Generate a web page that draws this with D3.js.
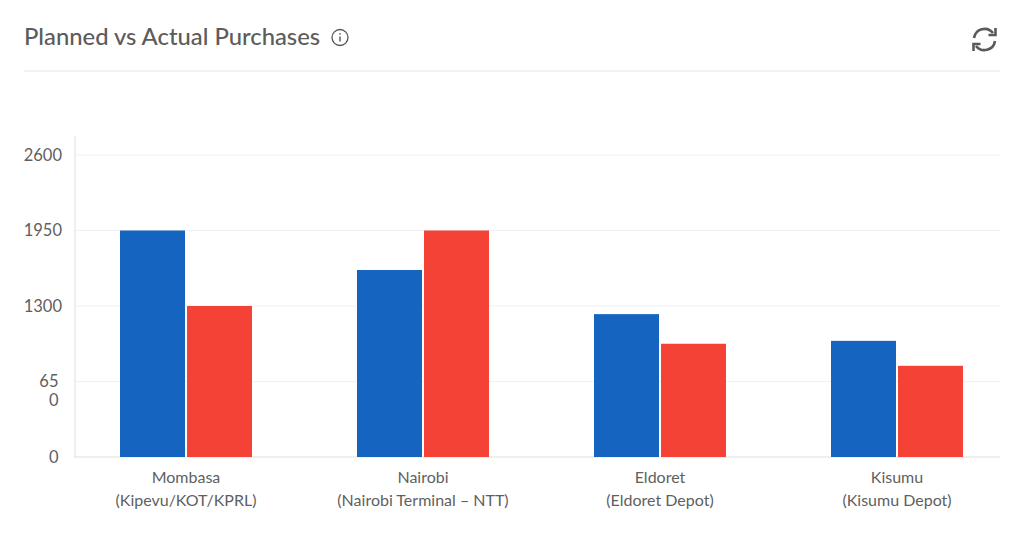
<!DOCTYPE html>
<html><head><meta charset="utf-8">
<script src="https://cdn.jsdelivr.net/npm/d3@7/dist/d3.min.js"></script>
<style>html,body{margin:0;padding:0;background:#fff}svg{display:block}text{font-family:Lato,"Noto Sans",sans-serif}</style>
</head><body><svg id="c" width="1024" height="546"></svg>
<script>
const categories=["Mombasa|(Kipevu/KOT/KPRL)","Nairobi|(Nairobi Terminal – NTT)","Eldoret|(Eldoret Depot)","Kisumu|(Kisumu Depot)"];
const planned=[1950,1610,1230,1000];
const actual=[1300,1950,975,785];
const tickValues=[0,650,1300,1950,2600];
const tickLabels=["0","65|0","1300","1950","2600"];
const seriesColors=["#1565c0","#f44336"];
const svg=d3.select("#c");
const y=d3.scaleLinear().domain([0,2600]).range([457,155]);
const x=d3.scaleBand().domain(categories).range([67.5,1015.5]);
const xs=d3.scaleBand().domain([0,1]).range([0,132]).paddingInner(0.03);
const plotL=75,plotR=1000;
// header
svg.append("text").attr("x",24).attr("y",45).attr("font-size",23.8).attr("fill","#5c5c5c").attr("font-weight",500).text("Planned vs Actual Purchases");
svg.append("line").attr("x1",24).attr("x2",1000).attr("y1",71).attr("y2",71).attr("stroke","#e6e6e6").attr("stroke-width",1.2);
const info=svg.append("g").attr("transform","translate(340,37.5)").attr("fill","none").attr("stroke","#555");
info.append("circle").attr("r",8).attr("stroke-width",1.3);
info.append("line").attr("y1",-1).attr("y2",4).attr("stroke-width",1.4);
info.append("line").attr("y1",-4.2).attr("y2",-2.8).attr("stroke-width",1.4);
const re=svg.append("g").attr("transform","translate(984.5,39.5)").attr("fill","none").attr("stroke","#5a5a5a").attr("stroke-width",2.6);
re.append("path").attr("d","M-10.5,-1.5A10.7,10.7 0 0 1 8.5,-6.5");
re.append("path").attr("d","M10.5,1.5A10.7,10.7 0 0 1 -8.5,6.5");
re.append("path").attr("d","M11,-11.5V-4.5H4");
re.append("path").attr("d","M-11,11.5V4.5H-4");
// grid
svg.append("g").selectAll("line").data(tickValues.slice(1)).join("line")
 .attr("x1",plotL).attr("x2",plotR).attr("y1",d=>y(d)).attr("y2",d=>y(d)).attr("stroke","#f1f1f1").attr("stroke-width",1.2);
// axis lines
svg.append("line").attr("x1",plotL).attr("x2",plotL).attr("y1",136).attr("y2",457).attr("stroke","#e6e6e6").attr("stroke-width",1.2);
svg.append("line").attr("x1",plotL-1).attr("x2",plotR).attr("y1",457).attr("y2",457).attr("stroke","#e0e0e0").attr("stroke-width",1.2);
// bars
const cx=c=>x(c)+x.bandwidth()/2-66;
[planned,actual].forEach((vals,i)=>{
 svg.append("g").selectAll("rect").data(vals).join("rect")
  .attr("x",(d,j)=>cx(categories[j])+xs(i)).attr("width",xs.bandwidth())
  .attr("y",d=>y(d)).attr("height",d=>y(0)-y(d)).attr("fill",seriesColors[i]);
});
// y labels
tickValues.forEach((v,i)=>{
 const parts=tickLabels[i].split("|");
 const t=svg.append("text").attr("text-anchor","end").attr("font-size",16.5).attr("fill","#5f5f5f");
 parts.forEach((p,k)=>t.append("tspan").attr("x",tickLabels[i].length>=4&&parts.length===1?62:58.5).attr("y",y(v)+5.5+k*19).text(p));
});
// x labels
categories.forEach(c=>{
 const t=svg.append("text").attr("text-anchor","middle").attr("font-size",16).attr("fill","#5f5f5f");
 c.split("|").forEach((p,k)=>t.append("tspan").attr("x",x(c)+x.bandwidth()/2).attr("y",483+k*23).text(p));
});
</script></body></html>
